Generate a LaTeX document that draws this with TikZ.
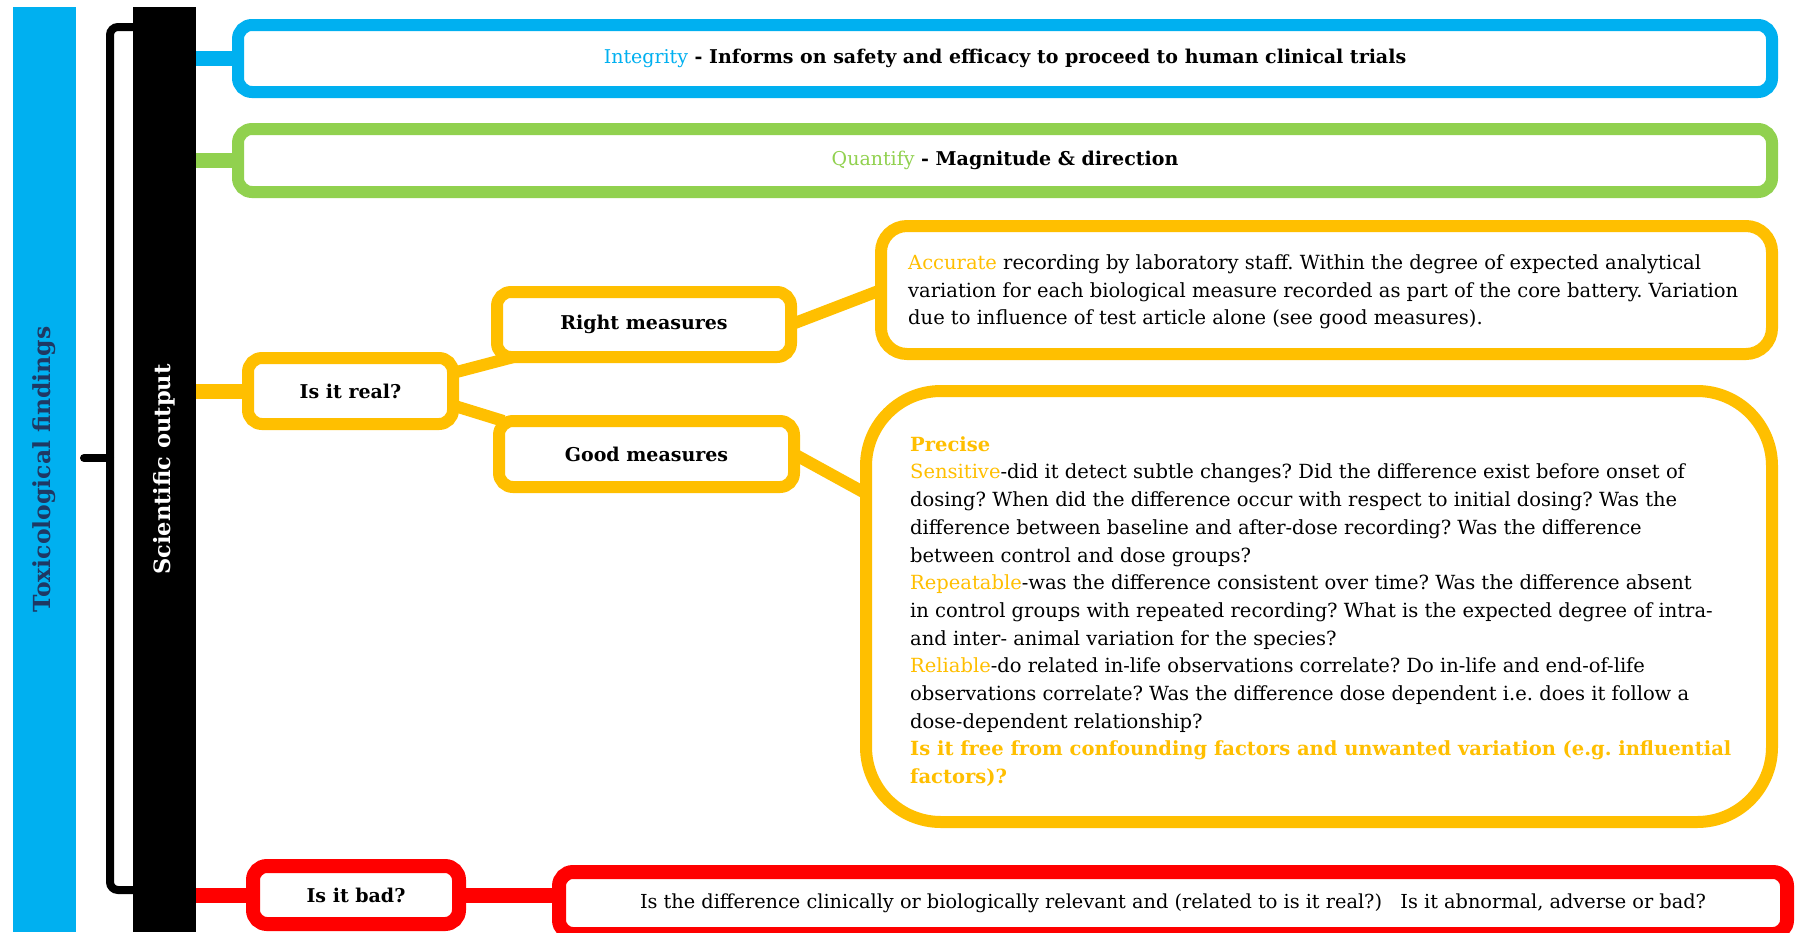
\documentclass[tikz,border=0pt]{standalone}
\usepackage{fontspec}
\setmainfont{DejaVu Serif}
\usetikzlibrary{positioning}
\definecolor{toxblue}{rgb}{0,0.69,0.94}
\definecolor{quantgreen}{rgb}{0.57,0.82,0.31}
\definecolor{realyellow}{rgb}{1,0.75,0}
\definecolor{badred}{rgb}{1,0,0}
\definecolor{navy}{rgb}{0.12,0.22,0.39}
\newcommand{\yel}[1]{\textcolor{realyellow}{#1}}

\begin{document}
\begin{tikzpicture}[x=1pt, y=-1pt,
  bar/.style={minimum width=63pt, minimum height=925pt, inner sep=0pt, outer sep=0pt},
  box/.style={draw, line width=12pt, rounded corners=14pt, inner sep=0pt, outer sep=0pt, fill=white,
    font=\fontsize{19}{22}\selectfont\bfseries},
  para/.style={align=left, inner sep=0pt, font=\fontsize{19.5}{27.7}\selectfont\frenchspacing},
  link/.style={line width=15pt},
  twig/.style={line width=12pt, realyellow}]
\useasboundingbox (0,0) rectangle (1795,932);

\node[bar, fill=toxblue, text=navy] (toxfind) at (44,469.5)
  {\rotatebox{90}{\fontsize{23.5}{24}\selectfont\bfseries Toxicological findings}};
\node[bar, fill=black, text=white] (sciout) at (164.5,469.5)
  {\rotatebox{90}{\fontsize{22.5}{23}\selectfont\bfseries Scientific output}};
\draw[line width=8pt, rounded corners=8pt] (133,27) -- (110,27) -- (110,890) -- (133,890);
\draw[line width=8pt, line cap=round] (110,458) -- (84,458);

\node[box, draw=toxblue, minimum width=1534pt, minimum height=67pt] (integrity) at (1005,58.5)
  {\textcolor{toxblue}{\mdseries Integrity} - Informs on safety and efficacy to proceed to human clinical trials};
\node[box, draw=quantgreen, minimum width=1534pt, minimum height=63pt] (quantify) at (1005,160.5)
  {\textcolor{quantgreen}{\mdseries Quantify} - Magnitude \& direction};

\node[box, draw=realyellow, minimum width=205pt, minimum height=66pt] (real) at (350.5,391) {Is it real?};
\node[box, draw=realyellow, minimum width=294pt, minimum height=65pt] (rightm) at (644,324.5) {Right measures};
\node[box, draw=realyellow, minimum width=295pt, minimum height=66pt] (goodm) at (646.5,454) {Good measures};

\node[box, draw=realyellow, minimum width=891pt, minimum height=128pt, rounded corners=26pt] (accurate) at (1326.5,290) {};
\node[para, right=27pt of accurate.west, yshift=-2pt] (accuratetext)
  {\yel{Accurate} recording by laboratory staff. Within the degree of expected analytical\\
   variation for each biological measure recorded as part of the core battery. Variation\\
   due to influence of test article alone (see good measures).};

\node[box, draw=realyellow, minimum width=906pt, minimum height=431pt, rounded corners=75pt] (precise) at (1319,606.5) {};
\node[para, right=44pt of precise.west, yshift=-5pt] (precisetext)
  {\textbf{\yel{Precise}}\\
   \yel{Sensitive}-did it detect subtle changes? Did the difference exist before onset of\\
   dosing? When did the difference occur with respect to initial dosing? Was the\\
   difference between baseline and after-dose recording? Was the difference\\
   between control and dose groups?\\
   \yel{Repeatable}-was the difference consistent over time? Was the difference absent\\
   in control groups with repeated recording? What is the expected degree of intra-\\
   and inter- animal variation for the species?\\
   \yel{Reliable}-do related in-life observations correlate? Do in-life and end-of-life\\
   observations correlate? Was the difference dose dependent i.e. does it follow a\\
   dose-dependent relationship?\\
   \textbf{\yel{Is it free from confounding factors and unwanted variation (e.g. influential}}\\
   \textbf{\yel{factors)?}}};

\node[box, draw=badred, line width=14pt, minimum width=206pt, minimum height=58pt] (bad) at (356,895) {Is it bad?};
\node[box, draw=badred, line width=14pt, minimum width=1228pt, minimum height=62pt,
  font=\fontsize{19.3}{22}\selectfont\frenchspacing] (relevant) at (1173,903)
  {Is the difference clinically or biologically relevant and (related to is it real?)\ \ \ Is it abnormal, adverse or bad?};

\draw[link, toxblue] (sciout.east |- integrity.west) -- (integrity.west);
\draw[link, quantgreen] (sciout.east |- quantify.west) -- (quantify.west);
\draw[link, realyellow] (sciout.east |- real.west) -- (real.west);
\draw[link, badred] (sciout.east |- bad.west) -- (bad.west);
\draw[link, badred] (bad.east) -- (bad.east -| relevant.west);
\draw[twig] (real.10) -- (rightm.194);
\draw[twig] (real.-8) -- (goodm.167);
\draw[twig] (rightm.east) -- (accurate.west);
\draw[twig] (goodm.east) -- (precise.166);
\end{tikzpicture}
\end{document}
